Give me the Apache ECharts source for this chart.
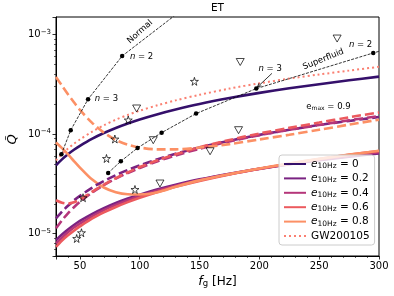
<!DOCTYPE html>
<html><head><meta charset="utf-8">
<script src="https://cdn.jsdelivr.net/npm/echarts@6/dist/echarts.min.js"></script>
<style>html,body{margin:0;padding:0;background:#fff}#c{width:394px;height:296px}</style>
</head><body><div id="c"></div>
<script>
// ---- data ----
const fGrid = [30,35,40,45,50,60,70,80,90,100,115,130,150,175,200,225,250,275,300];
const e0Solid = [4.85e-5,5.56e-5,6.25e-5,6.93e-5,7.6e-5,8.93e-5,1.022e-4,1.149e-4,1.274e-4,1.399e-4,1.58e-4,1.76e-4,2.0e-4,2.29e-4,2.58e-4,2.87e-4,3.15e-4,3.45e-4,3.76e-4];
const gwDotted = [5.43e-5,6.3e-5,7.13e-5,7.97e-5,8.8e-5,1.05e-4,1.22e-4,1.39e-4,1.55e-4,1.71e-4,1.94e-4,2.17e-4,2.47e-4,2.85e-4,3.22e-4,3.59e-4,3.95e-4,4.32e-4,4.72e-4];
const e2Solid = [8.6e-6,9.8e-6,1.1e-5,1.22e-5,1.34e-5,1.57e-5,1.8e-5,2.03e-5,2.25e-5,2.46e-5,2.78e-5,3.09e-5,3.5e-5,3.99e-5,4.48e-5,4.96e-5,5.44e-5,5.91e-5,6.38e-5];
const e4Solid = [7.95e-6,9.1e-6,1.03e-5,1.15e-5,1.26e-5,1.49e-5,1.72e-5,1.94e-5,2.16e-5,2.38e-5,2.7e-5,3.02e-5,3.44e-5,3.95e-5,4.46e-5,4.97e-5,5.48e-5,5.99e-5,6.55e-5];
const e6Solid = [7.35e-6,8.5e-6,9.6e-6,1.07e-5,1.18e-5,1.41e-5,1.63e-5,1.85e-5,2.07e-5,2.29e-5,2.62e-5,2.95e-5,3.38e-5,3.93e-5,4.48e-5,5.03e-5,5.6e-5,6.17e-5,6.75e-5];
const e8Solid = [8.2e-5,7.2e-5,6.25e-5,5.35e-5,4.6e-5,3.5e-5,2.9e-5,2.6e-5,2.48e-5,2.47e-5,2.6e-5,2.95e-5,3.42e-5,3.95e-5,4.5e-5,5.05e-5,5.62e-5,6.2e-5,6.78e-5];
const e2Dashed = [1.42e-5,1.66e-5,1.9e-5,2.15e-5,2.39e-5,2.88e-5,3.37e-5,3.86e-5,4.35e-5,4.84e-5,5.58e-5,6.32e-5,7.31e-5,8.55e-5,9.78e-5,1.1e-4,1.23e-4,1.35e-4,1.48e-4];
const e4Dashed = [1.13e-5,1.36e-5,1.6e-5,1.84e-5,2.08e-5,2.57e-5,3.06e-5,3.56e-5,4.06e-5,4.56e-5,5.32e-5,6.08e-5,7.1e-5,8.4e-5,9.7e-5,1.1e-4,1.23e-4,1.37e-4,1.51e-4];
const e6Dashed = [2.16e-5,2.04e-5,2.0e-5,2.06e-5,2.2e-5,2.62e-5,3.1e-5,3.6e-5,4.12e-5,4.65e-5,5.45e-5,6.25e-5,7.35e-5,8.7e-5,1.01e-4,1.15e-4,1.3e-4,1.47e-4,1.64e-4];
const e8Dashed = [3.73e-4,3.05e-4,2.5e-4,2.08e-4,1.74e-4,1.3e-4,1.03e-4,8.7e-5,7.8e-5,7.3e-5,7.0e-5,7.0e-5,7.3e-5,7.9e-5,8.8e-5,9.8e-5,1.1e-4,1.24e-4,1.39e-4];

const normalF = [34.5,42.3,56.8,85.3,150];
const normalQ = [6.25e-5,1.09e-4,2.23e-4,6.05e-4,2.4e-3];
const superF = [73.6,84.2,98.2,118.3,147.1,197.4,295.2,320];
const superQ = [4.06e-5,5.32e-5,7.24e-5,1.03e-4,1.60e-4,2.85e-4,6.49e-4,7.9e-4];
const starF = [145.7,90.4,79.2,72.2,96.0,52.6,51.3,47.3];
const starQ = [3.37e-4,1.38e-4,8.89e-5,5.67e-5,2.77e-5,2.29e-5,1.02e-5,8.93e-6];
const triF = [97.4,111.3,184.0,265.0,182.6,158.8,116.9];
const triQ = [1.80e-4,8.65e-5,5.27e-4,9.06e-4,1.09e-4,6.70e-5,3.18e-5];

const legendNames = ['0','0.2','0.4','0.6','0.8'];
const xTickLabels = [50,100,150,200,250,300];
const yTickLabels = ['−5','−4','−3'];

// ---- chart ----
const FONT = 'DejaVu Sans';
const COL = {e0:'#35106b', e2:'#7a2382', e4:'#b5367a', e6:'#ec5a5e', e8:'#fc9065', gw:'#fa8072'};
const X_MIN = 30, X_MAX = 300, Y_MIN = 5.96e-6, Y_MAX = 1.49e-3;
const chart = echarts.init(document.getElementById('c'), null, {renderer:'canvas', width:394, height:296});

function pairs(xs, ys){ return xs.map((x,i)=>[x, ys[i]]); }
function curve(name, arr, color, type, width, z){
  return {type:'line', name, data: pairs(fGrid, arr), symbol:'none', smooth:0.3,
    lineStyle:{color, width, type, cap:'butt'}, itemStyle:{color}, z, silent:true, clip:true, animation:false};
}
const DASH = [9,4];
const nm = legendNames.map(v => 'e' + v);
const series = [
  curve(nm[0], e0Solid, COL.e0, 'solid', 2.6, 2),
  curve(nm[1], e2Solid, COL.e2, 'solid', 2.6, 2),
  curve(nm[2], e4Solid, COL.e4, 'solid', 2.6, 2),
  curve(nm[3], e6Solid, COL.e6, 'solid', 2.6, 2),
  curve(nm[4], e8Solid, COL.e8, 'solid', 2.6, 2),
  curve(nm[1], e2Dashed, COL.e2, DASH, 2.6, 2),
  curve(nm[2], e4Dashed, COL.e4, DASH, 2.6, 2),
  curve(nm[3], e6Dashed, COL.e6, DASH, 2.6, 2),
  curve(nm[4], e8Dashed, COL.e8, DASH, 2.6, 2),
  curve('GW200105', gwDotted, COL.gw, [2,3], 2, 2),
  {type:'line', name:'normal', data:pairs(normalF, normalQ), symbol:'circle', symbolSize:4.5, showSymbol:true,
   lineStyle:{color:'#000', width:0.8, type:[3,1.3]}, itemStyle:{color:'#000'}, z:4, silent:true, clip:true, animation:false},
  {type:'line', name:'superfluid', data:pairs(superF, superQ), symbol:'circle', symbolSize:4.5, showSymbol:true,
   lineStyle:{color:'#000', width:0.8, type:[3,1.3]}, itemStyle:{color:'#000'}, z:4, silent:true, clip:true, animation:false},
  {type:'scatter', name:'stars', data:pairs(starF, starQ), symbol:'path://M50,0 L61,35 L98,35 L68,57 L79,91 L50,70 L21,91 L32,57 L2,35 L39,35 Z',
   symbolSize:8, itemStyle:{color:'rgba(255,255,255,0)', borderColor:'#000', borderWidth:0.9}, z:5, silent:true, animation:false},
  {type:'scatter', name:'tri', data:pairs(triF, triQ), symbol:'path://M0,0 L10,0 L5,9 Z',
   symbolSize:[8,7], itemStyle:{color:'rgba(255,255,255,0)', borderColor:'#000', borderWidth:0.9}, z:5, silent:true, animation:false}
];

const legendMap = {};
legendNames.forEach(v => legendMap['e'+v] = '{i|e}{sub|10Hz}{t| = ' + v + '}');

chart.setOption({
  animation:false,
  grid:{left:56, right:15, top:17, bottom:40, show:true, borderColor:'#000', borderWidth:1, backgroundColor:'rgba(0,0,0,0)'},
  xAxis:{type:'value', min:X_MIN, max:X_MAX, splitNumber:5,
    axisLine:{show:true, lineStyle:{color:'#000', width:1}},
    axisTick:{show:true, length:3.5, lineStyle:{color:'#000', width:0.8}},
    minorTick:{show:true, splitNumber:5, length:2, lineStyle:{color:'#000', width:0.6}},
    splitLine:{show:false},
    axisLabel:{color:'#000', fontFamily:FONT, fontSize:10, margin:5,
      formatter: v => (xTickLabels.indexOf(v) >= 0 ? String(v) : '')}
  },
  yAxis:{type:'log', logBase:10, min:Y_MIN, max:Y_MAX,
    axisLine:{show:true, lineStyle:{color:'#000', width:1}},
    axisTick:{show:true, length:3.5, lineStyle:{color:'#000', width:0.8}},
    splitLine:{show:false},
    axisLabel:{color:'#000', fontFamily:FONT, fontSize:10, margin:5,
      formatter: v => { const l = Math.log10(v); const r = Math.round(l);
        if (Math.abs(l - r) > 1e-6) return ''; const s = String(r).replace('-', '−');
        return yTickLabels.indexOf(s) >= 0 ? '10{sup|' + s + '}' : ''; },
      rich:{sup:{fontSize:7, fontFamily:FONT, verticalAlign:'top', padding:[0,0,5,0]}}
    }
  },
  legend:{orient:'vertical', left:279, top:155, itemWidth:22, itemHeight:10, itemGap:2.4,
    padding:[3,5,3,4], backgroundColor:'rgba(255,255,255,0.8)', borderColor:'#cccccc', borderWidth:1, borderRadius:3,
    data: nm.concat(['GW200105']), selectedMode:false,
    itemStyle:{opacity:0},
    formatter: n => legendMap[n] || n,
    textStyle:{fontFamily:FONT, fontSize:10.5, color:'#000', lineHeight:12,
      rich:{i:{fontStyle:'italic', fontSize:10.5, fontFamily:FONT, lineHeight:12}, sub:{fontSize:7.5, fontFamily:FONT, verticalAlign:'bottom', lineHeight:12}, t:{fontSize:10.5, fontFamily:FONT, lineHeight:12}}}
  },
  series
});

// ---- annotations and log minor ticks, positioned through the axes ----
const px = (f, q) => chart.convertToPixel({xAxisIndex:0, yAxisIndex:0}, [f, q]);
const annots = [
  {t:'Normal', f:100.2, q:1.06e-3, rot:42, align:'center'},
  {t:'{n|n} = 2', f:91.8, q:5.88e-4, rot:0, align:'left'},
  {t:'{n|n} = 3', f:62.4, q:2.23e-4, rot:0, align:'left'},
  {t:'Superfluid', f:253.5, q:5.61e-4, rot:22, align:'center'},
  {t:'{n|n} = 2', f:284.6, q:7.76e-4, rot:0, align:'center'},
  {t:'{n|n} = 3', f:209, q:4.46e-4, rot:0, align:'center'},
  {t:'e{s|max} = 0.9', f:257.8, q:1.88e-4, rot:0, align:'center'}
];
const g = [];
annots.forEach(a => {
  const p = px(a.f, a.q);
  g.push({type:'text', x:p[0], y:p[1], rotation:a.rot*Math.PI/180, z:10,
    style:{text:a.t, fill:'#000', font:'8.5px "DejaVu Sans"', align:a.align, verticalAlign:'middle',
      rich:{n:{fontStyle:'italic', fontSize:8.5, fontFamily:FONT}, s:{fontSize:6, fontFamily:FONT, verticalAlign:'bottom'}}}});
});
// arrow for superfluid n=3
const a0 = px(210.5, 4.05e-4), a1 = px(superF[5], superQ[5]);
const hx = a1[0]+1.2, hy = a1[1]-1.6;
g.push({type:'line', z:10, shape:{x1:a0[0], y1:a0[1], x2:hx, y2:hy}, style:{stroke:'#000', lineWidth:0.8}});
const ang = Math.atan2(hy-a0[1], hx-a0[0]);
g.push({type:'polyline', z:10, shape:{points:[[hx-4*Math.cos(ang-0.45), hy-4*Math.sin(ang-0.45)],[hx,hy],[hx-4*Math.cos(ang+0.45), hy-4*Math.sin(ang+0.45)]]}, style:{stroke:'#000', lineWidth:0.8, fill:null}});
// y minor ticks
const x0 = chart.convertToPixel({xAxisIndex:0}, X_MIN);
for (let k=-6;k<=-3;k++) for (let m=2;m<=9;m++){
  const v = m*Math.pow(10,k); if (v <= Y_MIN || v >= Y_MAX) continue;
  const y = Math.round(chart.convertToPixel({yAxisIndex:0}, v)) + 0.5;
  g.push({type:'line', shape:{x1:x0-2, y1:y, x2:x0, y2:y}, style:{stroke:'#000', lineWidth:0.6}});
}
// title & axis names
const cx = (chart.convertToPixel({xAxisIndex:0}, X_MIN) + chart.convertToPixel({xAxisIndex:0}, X_MAX))/2;
const yTop = chart.convertToPixel({yAxisIndex:0}, Y_MAX), yBot = chart.convertToPixel({yAxisIndex:0}, Y_MIN);
g.push({type:'text', x:cx, y:yTop-9, style:{text:'ET', font:'10.5px "DejaVu Sans"', fill:'#000', align:'center', verticalAlign:'middle'}});
g.push({type:'text', x:cx, y:yBot+26, style:{text:'{i|f}{s|g}{t| [Hz]}', fill:'#000', align:'center', verticalAlign:'middle', font:'12px "DejaVu Sans"',
  rich:{i:{fontStyle:'italic', fontSize:12.5, fontFamily:FONT}, s:{fontSize:8.5, fontFamily:FONT, verticalAlign:'bottom'}, t:{fontSize:12, fontFamily:FONT}}}});
g.push({type:'text', x:13, y:(yTop+yBot)/2+3, rotation:Math.PI/2, style:{text:'Q\u0303', font:'italic 13px "DejaVu Sans"', fill:'#000', align:'center', verticalAlign:'middle'}});
chart.setOption({graphic:{elements:g}});
</script></body></html>
